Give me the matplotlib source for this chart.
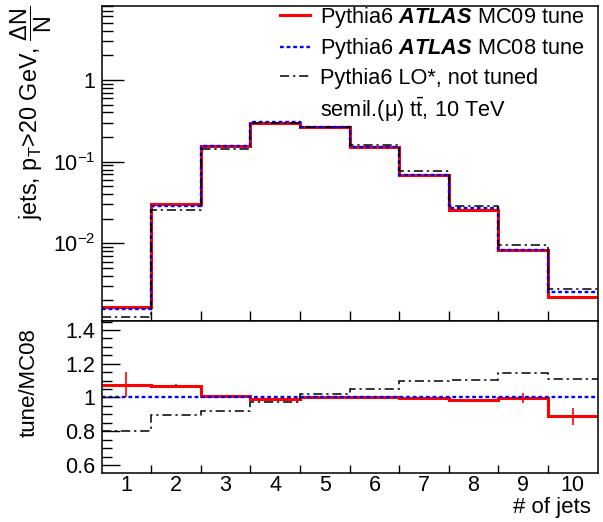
import numpy as np
import matplotlib
matplotlib.use("Agg")
import matplotlib.pyplot as plt
from matplotlib.lines import Line2D
from matplotlib.ticker import FixedLocator, NullFormatter, MultipleLocator

plt.rcParams['font.family'] = ['Liberation Sans', 'DejaVu Sans']
plt.rcParams['mathtext.fontset'] = 'custom'
plt.rcParams['mathtext.rm'] = 'Liberation Sans'
plt.rcParams['mathtext.it'] = 'Liberation Sans:italic'
plt.rcParams['mathtext.bf'] = 'Liberation Sans:bold'
try:
    plt.rcParams['mathtext.bfit'] = 'Liberation Sans:italic:bold'
    BFIT = r'$\mathbfit{ATLAS}$'
except KeyError:
    BFIT = r'$\mathbf{ATLAS}$'

# ---- data ----
njets = [1, 2, 3, 4, 5, 6, 7, 8, 9, 10]
mc09 = [1.68e-3, 0.0301, 0.156, 0.300, 0.264, 0.153, 0.0693, 0.0256, 0.0083, 2.23e-3]
mc08 = [1.56e-3, 0.0287, 0.155, 0.302, 0.263, 0.152, 0.0694, 0.0269, 0.0083, 2.52e-3]
lo_nt = [1.27e-3, 0.0256, 0.143, 0.294, 0.268, 0.161, 0.0762, 0.0290, 0.0095, 2.79e-3]

ratio_mc09 = [1.076, 1.070, 1.006, 0.992, 1.004, 1.004, 0.998, 0.984, 0.998, 0.888]
ratio_mc09_err = [0.075, 0.010, 0.004, 0.003, 0.003, 0.004, 0.005, 0.008, 0.028, 0.050]
ratio_mc08 = [1.0] * 10
ratio_lo = [0.804, 0.896, 0.922, 0.974, 1.020, 1.050, 1.100, 1.102, 1.146, 1.110]

labels = ['Pythia6 ' + BFIT + ' MC09 tune',
          'Pythia6 ' + BFIT + ' MC08 tune',
          'Pythia6 LO*, not tuned',
          'semil.(μ) t$\\bar{\\mathrm{t}}$, 10 TeV']

edges = np.arange(0.5, len(njets) + 1.0, 1.0)
centers = np.array(njets, dtype=float)

W, H = 603, 522
fig = plt.figure(figsize=(W / 100, H / 100), dpi=100)
L, R = 101.7 / W, 597.5 / W
ax1 = fig.add_axes([L, 1 - 321 / H, R - L, (321 - 5.7) / H])
ax2 = fig.add_axes([L, 1 - 473.3 / H, R - L, (473.3 - 321) / H])
AXW_PX = 495.8
h2 = (473.3 - 321)

red_kw = dict(color='#ff0000', lw=2.2)
blue_kw = dict(color='#0000ff', lw=1.7, linestyle=(0, (1.6, 1.2)))
black_kw = dict(color='black', lw=1.1, linestyle=(0, (6, 2.5, 1.5, 2.5)))

TICKFS = 15.5
TITLEFS = 16

# top panel
ax1.stairs(mc09, edges, baseline=None, **red_kw)
ax1.stairs(mc08, edges, baseline=None, **blue_kw)
ax1.stairs(lo_nt, edges, baseline=None, **black_kw)
ax1.set_yscale('log')
ax1.set_xlim(0.5, 10.5)
ax1.set_ylim(10 ** -2.95, 10 ** 0.909)
ax1.yaxis.set_major_locator(FixedLocator([1e-2, 1e-1, 1]))
ax1.set_yticklabels([r'$10^{-2}$', r'$10^{-1}$', '1'])
minors = [m * 10.0 ** e for e in range(-3, 1) for m in range(2, 10)]
ax1.yaxis.set_minor_locator(FixedLocator(minors))
ax1.yaxis.set_minor_formatter(NullFormatter())
ax1.set_xticks(edges[1:-1])
ax1.set_xticklabels([])
ax1.tick_params(axis='y', which='major', direction='in', length=16, width=1,
                labelsize=TICKFS, pad=4.5, right=False)
ax1.tick_params(axis='y', which='minor', direction='in', length=8, width=1, right=False)
ax1.tick_params(axis='x', which='major', direction='in', length=7, width=1, top=False)
ax1.set_ylabel(r'jets, p$_{\mathrm{T}}$>20 GeV, $\dfrac{\Delta \mathrm{N}}{\mathrm{N}}$',
               fontsize=16.8, loc='top')
ax1.yaxis.set_label_coords((54 - 101.7) / AXW_PX, 1.0)

handles = [Line2D([], [], **red_kw), Line2D([], [], **blue_kw),
           Line2D([], [], **black_kw), Line2D([], [], color='none')]
ax1.legend(handles, labels, loc='upper right',
           bbox_to_anchor=(1 - 13 / AXW_PX, 1 + 1 / 315.3),
           frameon=False, fontsize=15.7, handlelength=1.4, handletextpad=0.45,
           labelspacing=0.3, borderaxespad=0.0, borderpad=0.0)

# bottom panel
ax2.stairs(ratio_mc09, edges, baseline=None, **red_kw)
ax2.errorbar(centers, ratio_mc09, yerr=ratio_mc09_err, fmt='none', ecolor='#ff0000',
             elinewidth=1.2, capsize=0)
ax2.stairs(ratio_mc08, edges, baseline=None, **blue_kw)
ax2.stairs(ratio_lo, edges, baseline=None, **black_kw)
ax2.set_xlim(0.5, 10.5)
ax2.set_ylim(0.551, 1.453)
ax2.set_yticks([0.6, 0.8, 1.0, 1.2, 1.4])
ax2.set_yticklabels(['0.6', '0.8', '1', '1.2', '1.4'])
ax2.yaxis.set_minor_locator(MultipleLocator(0.05))
ax2.set_xticks(edges[1:-1])
ax2.set_xticklabels([])
ax2.set_xticks(centers, [str(n) for n in njets], minor=True)
ax2.tick_params(axis='y', which='major', direction='in', length=13, width=1,
                labelsize=TICKFS, pad=4.5, right=False)
ax2.tick_params(axis='y', which='minor', direction='in', length=7, width=1, right=False)
ax2.tick_params(axis='x', which='major', direction='in', length=6, width=1, top=False)
ax2.tick_params(axis='x', which='minor', length=0, labelsize=TICKFS, pad=1.0, top=False)
ax2.set_ylabel('tune/MC08', fontsize=TITLEFS, loc='top')
ax2.yaxis.set_label_coords((40 - 101.7) / AXW_PX, 1 - 7 / h2)
ax2.set_xlabel('# of jets', fontsize=TITLEFS, loc='right')
ax2.xaxis.set_label_coords((591 - 101.7) / AXW_PX, -(497 - 473.3) / h2)

for ax in (ax1, ax2):
    for s in ax.spines.values():
        s.set_linewidth(1.1)

fig.savefig('out.png', dpi=100)
